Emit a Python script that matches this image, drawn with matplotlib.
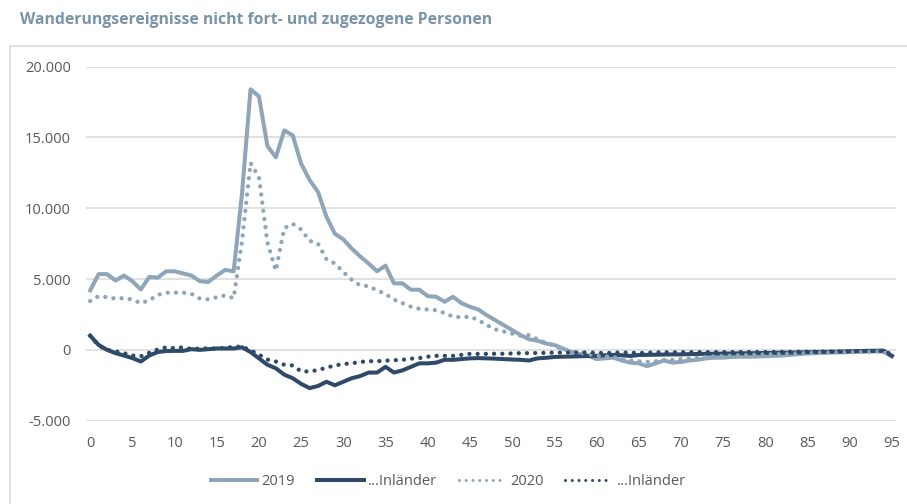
import numpy as np
import matplotlib
matplotlib.use("Agg")
import matplotlib.pyplot as plt
from matplotlib.lines import Line2D
from matplotlib.patches import Rectangle

# ── Daten (Alter 0–95) ──────────────────────────────────────────────────────
alter = np.arange(0, 96)

wand_2019 = [
    4200, 5350, 5350, 4900, 5250, 4850, 4270, 5150, 5100, 5550,
    5550, 5400, 5250, 4850, 4800, 5250, 5650, 5550, 11100, 18400,
    17900, 14400, 13600, 15500, 15150, 13150, 12000, 11150, 9400, 8200,
    7800, 7150, 6600, 6100, 5550, 5950, 4700, 4700, 4250, 4250,
    3800, 3750, 3400, 3750, 3300, 3050, 2850, 2450, 2100, 1750,
    1400, 1050, 750, 650, 450, 350, 100, -150, -300, -400,
    -650, -600, -550, -750, -900, -950, -1150, -950, -750, -900,
    -850, -750, -700, -600, -550, -550, -500, -480, -480, -470,
    -450, -420, -400, -350, -300, -250, -230, -200, -180, -170,
    -150, -130, -120, -100, -120, -450,
]

inl_2019 = [
    1000, 350, 0, -230, -400, -580, -820, -400, -150, -80,
    -70, -70, 50, 0, 50, 100, 100, 100, 180, -150,
    -600, -1050, -1300, -1750, -2000, -2400, -2700, -2550, -2250, -2500,
    -2250, -2000, -1850, -1600, -1600, -1200, -1600, -1450, -1200, -950,
    -950, -900, -700, -700, -650, -600, -580, -600, -620, -650,
    -680, -700, -750, -600, -560, -500, -480, -470, -450, -430,
    -420, -380, -350, -380, -430, -360, -350, -340, -330, -320,
    -320, -300, -290, -280, -270, -260, -250, -240, -240, -230,
    -220, -210, -200, -190, -180, -160, -150, -140, -130, -120,
    -100, -80, -70, -60, -50, -420,
]

wand_2020 = [
    3450, 3800, 3720, 3620, 3660, 3550, 3300, 3500, 3880, 4040,
    4040, 4040, 3950, 3620, 3570, 3710, 3850, 3650, 7700, 13200,
    12200, 7600, 5600, 8600, 8900, 8500, 7700, 7500, 6400, 6100,
    5500, 4950, 4550, 4500, 4200, 3950, 3550, 3300, 3050, 2900,
    2850, 2800, 2600, 2350, 2300, 2350, 2100, 1750, 1450, 1300,
    1150, 1000, 1050, 750, 500, 280, 50, -100, -200, -300,
    -400, -450, -500, -650, -750, -800, -850, -800, -700, -700,
    -650, -600, -550, -500, -450, -430, -400, -380, -360, -340,
    -320, -300, -280, -260, -240, -220, -200, -190, -180, -170,
    -160, -150, -140, -120, -100, -550,
]

inl_2020 = [
    1000, 300, 0, -100, -230, -400, -450, -200, 30, 180,
    120, 180, 60, 100, 100, 100, 140, 220, 230, -30,
    -330, -680, -820, -1050, -1100, -1520, -1520, -1430, -1250, -1100,
    -1000, -950, -850, -800, -800, -760, -730, -700, -620, -580,
    -480, -420, -420, -420, -350, -280, -280, -280, -270, -270,
    -250, -230, -230, -220, -210, -190, -190, -190, -190, -190,
    -200, -230, -200, -180, -200, -220, -200, -180, -170, -170,
    -160, -160, -160, -160, -155, -155, -155, -150, -150, -150,
    -150, -145, -140, -135, -130, -125, -120, -115, -110, -105,
    -100, -95, -90, -85, -80, -300,
]

x_ticks = list(range(0, 96, 5))
y_ticks = [-5000, 0, 5000, 10000, 15000, 20000]
y_labels = ["-5.000", "0", "5.000", "10.000", "15.000", "20.000"]

titel = "Wanderungsereignisse nicht fort- und zugezogene Personen"
legende = ["2019", "...Inländer", "2020", "...Inländer"]

# ── Stil ─────────────────────────────────────────────────────────────────────
hell = "#8fa5ba"
dunkel = "#2f4a68"
grau_text = "#595959"
plt.rcParams["font.family"] = ["Open Sans", "DejaVu Sans"]

fig = plt.figure(figsize=(9.07, 5.04), dpi=100)
ax = fig.add_axes([0.0948, 0.1653, 0.8931, 0.7024])

lw = 2.9
dots = (0, (0.01, 1.9))
ax.plot(alter, wand_2019, color=hell, lw=lw, solid_joinstyle="round", zorder=3)
ax.plot(alter, inl_2019, color=dunkel, lw=lw, solid_joinstyle="round", zorder=4)
ax.plot(alter, wand_2020, color=hell, lw=3.1, linestyle=dots,
        dash_capstyle="round", zorder=5)
ax.plot(alter, inl_2020, color=dunkel, lw=3.1, linestyle=dots,
        dash_capstyle="round", zorder=6)

ax.set_xlim(-0.5, 95.5)
ax.set_ylim(-5000, 20000)
ax.set_xticks(x_ticks)
ax.set_yticks(y_ticks)
ax.set_yticklabels(y_labels)
ax.tick_params(length=0, labelsize=10.5, labelcolor=grau_text)
ax.tick_params(axis="y", pad=11)
ax.tick_params(axis="x", pad=11)
ax.grid(axis="y", color="#d9d9d9", lw=1.1)
ax.set_axisbelow(True)
for s in ax.spines.values():
    s.set_visible(False)

# Legende
handles = [
    Line2D([], [], color=hell, lw=lw),
    Line2D([], [], color=dunkel, lw=lw),
    Line2D([], [], color=hell, lw=2.2, linestyle=(0, (0.01, 2.2)), dash_capstyle="round"),
    Line2D([], [], color=dunkel, lw=2.2, linestyle=(0, (0.01, 2.2)), dash_capstyle="round"),
]
leg = fig.legend(handles, legende, loc="center", bbox_to_anchor=(0.494, 0.044),
                 ncol=4, frameon=False, fontsize=10.5, handlelength=3.2,
                 handletextpad=0.3, columnspacing=1.5)
for t in leg.get_texts():
    t.set_color(grau_text)

# Titel und Rahmen
fig.text(20 / 907, 1 - 20 / 504, titel, fontsize=11.3, fontweight="bold",
         color="#7b93a9", va="center", ha="left")
fig.patches.append(Rectangle((10 / 907, -0.05), 1.0, 1.05 - 46 / 504,
                             transform=fig.transFigure, fill=False,
                             edgecolor="#d9d9d9", lw=1.2))

fig.savefig("out.png", dpi=100)
